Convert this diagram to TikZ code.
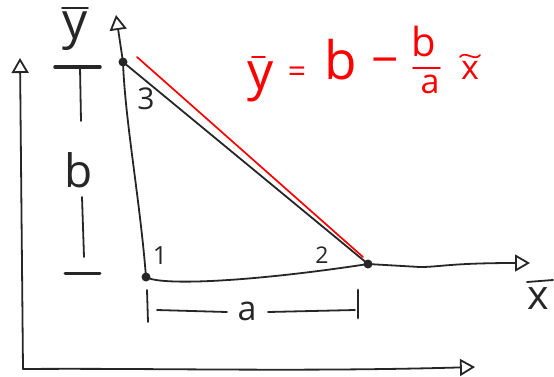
\documentclass[tikz,border=0pt]{standalone}
\usepackage{fontspec}
\setmainfont{Open Sans}
\usetikzlibrary{arrows.meta}
\begin{document}
\begin{tikzpicture}[x=1pt,y=-1pt,
  ink/.style={line width=1.8pt,line cap=round,line join=round,black!85},
  axisarrow/.style={ink,-{Triangle[open,length=15pt,width=17pt,line width=1.8pt]}},
  pt/.style={circle,fill=black!85,inner sep=0pt,minimum size=9pt},
  txt/.style={black!85,inner sep=0pt},
  rtxt/.style={red,inner sep=0pt},
  rink/.style={red,line width=1.7pt,line cap=round,line join=round},
  fs/.style={font=\fontsize{#1}{#1}\selectfont}]
\useasboundingbox (0,0) rectangle (554,376);
% outer axes
\coordinate (O) at (23,369);
\coordinate (Oy) at (20,58);
\coordinate (Ox) at (475,367);
\draw[axisarrow] (O) -- (Oy);
\draw[axisarrow] (O) .. controls (150,368) and (300,372) .. (Ox);
% triangle points
\node[pt] (p3) at (123,62) {};
\node[pt] (p1) at (146,277) {};
\node[pt] (p2) at (368,264) {};
\coordinate (yt) at (116,15);
\coordinate (xt) at (530,263);
\coordinate (xa) at (420,267);
\draw[ink] (p1.center) .. controls (140,200) and (125,120) .. (p3.center);
\draw[axisarrow] (p3.center) -- (yt);
\draw[ink] (p1.center) .. controls (160,286) and (250,282) .. (p2.center);
\draw[axisarrow] (p2.center) -- (xa) .. controls (440,267) and (450,263) .. (xt);
\draw[ink] (p3.center) -- (p2.center);
\coordinate (r1) at (137,57);
\coordinate (r2) at (363,257);
\draw[rink] (r1) -- (r2);
% point labels
\node[txt,fs=30] (l3) at (146,99) {3};
\node[txt,fs=25] (l1) at (160,256) {1};
\node[txt,fs=23] (l2) at (322,255) {2};
% axis labels
\node[txt,fs=50] (ylab) at (75,31) {y};
\coordinate (yb1) at (62,8); \coordinate (yb2) at (88,8);
\draw[ink] (yb1) -- (yb2);
\node[txt,fs=41] (xlab) at (538,299) {x};
\coordinate (xb1) at (527,282); \coordinate (xb2) at (553,280);
\draw[ink] (xb1) -- (xb2);
% b dimension
\coordinate (bt1) at (55,67); \coordinate (bt2) at (100,67);
\draw[ink,line width=3.5pt] (bt1) -- (bt2);
\coordinate (bv1) at (80,67); \coordinate (bv2) at (81,121);
\draw[ink] (bv1) -- (bv2);
\node[txt,fs=46] (b) at (79,170) {b};
\coordinate (bv3) at (82,197); \coordinate (bv4) at (84,257);
\draw[ink] (bv3) -- (bv4);
\coordinate (bb1) at (65,273); \coordinate (bb2) at (100,273);
\draw[ink,line width=3pt] (bb1) -- (bb2);
% a dimension
\coordinate (at1) at (147,290); \coordinate (at2) at (148,322);
\draw[ink] (at1) -- (at2);
\coordinate (al1) at (157,310); \coordinate (al2) at (227,312);
\draw[ink] (al1) -- (al2);
\node[txt,fs=34] (a) at (247,311) {a};
\coordinate (ar1) at (268,312); \coordinate (ar2) at (355,310);
\draw[ink] (ar1) -- (ar2);
\coordinate (at3) at (358,290); \coordinate (at4) at (358,318);
\draw[ink,line width=2.8pt] (at3) -- (at4);
% equation
\node[rtxt,fs=52] (ey) at (261,82) {y};
\coordinate (eyb1) at (252,57); \coordinate (eyb2) at (265,57);
\draw[rink] (eyb1) -- (eyb2);
\node[rtxt,fs=32] (eeq) at (297,75) {=};
\node[rtxt,fs=53] (eb) at (341,60) {b};
\node[rtxt,fs=48] (em) at (385,67) {−};
\node[rtxt,fs=40] (efb) at (424,41) {b};
\coordinate (fr1) at (413,68); \coordinate (fr2) at (440,68);
\draw[rink] (fr1) -- (fr2);
\node[rtxt,fs=34] (efa) at (430,84) {a};
\node[rtxt,fs=34] (ex) at (470,70) {x};
\coordinate (et1) at (460,57); \coordinate (et2) at (480,55);
\draw[rink] (et1) .. controls (465,50) and (475,62) .. (et2);
\end{tikzpicture}
\end{document}
